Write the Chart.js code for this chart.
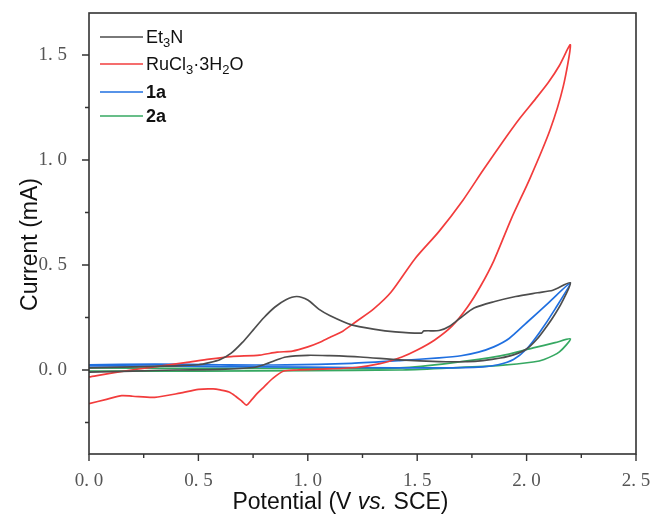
<!DOCTYPE html>
<html><head><meta charset="utf-8">
<script src="https://cdn.jsdelivr.net/npm/chart.js@4.4.1/dist/chart.umd.min.js"></script>
<style>html,body{margin:0;padding:0;background:#fff}#wrap{width:654px;height:520px}</style>
</head><body><div id="wrap"><canvas id="c" width="654" height="520"></canvas></div>
<script>
// ---- data (potential V vs SCE, current mA) ----
const et3nV = [0,0.2,0.4,0.5,0.55,0.6,0.65,0.7,0.75,0.8,0.85,0.9,0.95,1.0,1.05,1.1,1.2,1.3,1.4,1.52,1.53,1.6,1.65,1.7,1.76,1.85,1.95,2.05,2.12,2.2,
               2.16,2.12,2.09,2.05,2.0,1.94,1.88,1.8,1.73,1.6,1.42,1.24,1.1,1.0,0.9,0.85,0.8,0.75,0.6,0.4,0.2,0];
const et3nI = [0.01,0.015,0.02,0.025,0.035,0.05,0.08,0.13,0.19,0.25,0.30,0.335,0.35,0.333,0.29,0.26,0.215,0.195,0.182,0.176,0.186,0.188,0.21,0.25,0.295,0.325,0.35,0.368,0.38,0.415,
               0.32,0.25,0.205,0.15,0.10,0.072,0.057,0.045,0.04,0.04,0.048,0.062,0.068,0.07,0.062,0.045,0.025,0.012,0.003,0.0,-0.005,-0.01];
const ruV = [0,0.13,0.29,0.44,0.55,0.65,0.78,0.86,0.93,1.0,1.05,1.1,1.16,1.22,1.3,1.38,1.49,1.6,1.71,1.8,1.9,1.97,2.04,2.1,2.15,2.2,
             2.167,2.107,2.016,1.93,1.85,1.79,1.73,1.66,1.58,1.5,1.43,1.33,1.22,1.09,0.95,0.89,0.84,0.8,0.77,0.745,0.72,0.7,0.67,0.64,0.6,0.567,0.5,0.416,0.3,0.2,0.15,0.08,0];
const ruI = [-0.033,-0.01,0.014,0.035,0.052,0.064,0.071,0.085,0.09,0.11,0.13,0.155,0.185,0.23,0.29,0.37,0.53,0.66,0.81,0.95,1.10,1.20,1.29,1.37,1.45,1.548,
             1.348,1.143,0.914,0.72,0.52,0.40,0.30,0.21,0.143,0.095,0.062,0.03,0.012,0.005,0.0,-0.005,-0.04,-0.08,-0.11,-0.14,-0.167,-0.15,-0.125,-0.105,-0.095,-0.09,-0.092,-0.11,-0.13,-0.125,-0.122,-0.14,-0.16];
const s1aV = [0,0.3,0.6,0.9,1.2,1.42,1.6,1.7,1.78,1.85,1.92,2.0,2.1,2.2,
              2.13,2.06,2.0,1.94,1.87,1.8,1.6,1.2,0.8,0.4,0];
const s1aI = [0.025,0.028,0.025,0.024,0.032,0.045,0.058,0.068,0.085,0.11,0.15,0.225,0.32,0.415,
              0.29,0.18,0.10,0.05,0.025,0.015,0.01,0.012,0.015,0.018,0.02];
const s2aV = [0,0.4,0.8,1.2,1.42,1.65,1.88,2.03,2.13,2.2,
              2.15,2.08,2.03,1.88,1.65,1.42,1.0,0.5,0];
const s2aI = [0.01,0.008,0.008,0.008,0.01,0.033,0.067,0.105,0.13,0.148,
              0.086,0.05,0.038,0.022,0.01,0.0,-0.003,-0.005,-0.005];
const seriesNames = [
  [['Et',''],['3','sub'],['N','']],
  [['RuCl',''],['3','sub'],['\u00b73H',''],['2','sub'],['O','']],
  [['1a','']],
  [['2a','']]
];
const seriesBold = [false,false,true,true];
const seriesColors = ['#4d4d4d','#f23c3c','#1f6fe0','#36a862'];
const xMajor = [0,0.5,1,1.5,2,2.5];
const xMinor = [0.25,0.75,1.25,1.75,2.25];
const yMajor = [0,0.5,1,1.5];
const yMinor = [-0.25,0.25,0.75,1.25];
const xTitleParts = [['Potential (V ',''],['vs.','i'],[' SCE)','']];
const yTitle = 'Current (mA)';

const pts = (xs, ys) => xs.map((x,i)=>({x:x,y:ys[i]}));
const mk = (i, xs, ys) => ({label: seriesNames[i].map(p=>p[0]).join(''), data: pts(xs,ys), borderColor: seriesColors[i],
  backgroundColor: seriesColors[i], borderWidth: 1.7, pointRadius: 0, showLine: true, tension: 0.25, fill: false});

const zeroPad = s => { s.paddingTop = 0; s.paddingBottom = 0; s.paddingLeft = 0; s.paddingRight = 0; };

const decor = {
  id: 'decor',
  afterDraw(chart) {
    const ctx = chart.ctx, a = chart.chartArea, xs = chart.scales.x, ys = chart.scales.y;
    ctx.save();
    // frame
    ctx.strokeStyle = '#333'; ctx.lineWidth = 1.6;
    ctx.strokeRect(a.left, a.top, a.right - a.left, a.bottom - a.top);
    // ticks
    ctx.lineWidth = 1.4;
    ctx.beginPath();
    xMajor.forEach(v => { const p = xs.getPixelForValue(v); ctx.moveTo(p, a.bottom); ctx.lineTo(p, a.bottom + 7); });
    xMinor.forEach(v => { const p = xs.getPixelForValue(v); ctx.moveTo(p, a.bottom); ctx.lineTo(p, a.bottom + 4); });
    yMajor.forEach(v => { const p = ys.getPixelForValue(v); ctx.moveTo(a.left, p); ctx.lineTo(a.left - 7, p); });
    yMinor.forEach(v => { const p = ys.getPixelForValue(v); ctx.moveTo(a.left, p); ctx.lineTo(a.left - 4, p); });
    ctx.stroke();
    // axis titles
    ctx.fillStyle = '#111';
    ctx.textBaseline = 'alphabetic';
    const tf = (it) => (it ? 'italic ' : '') + '23px "Liberation Sans", Arial, sans-serif';
    let tw = 0;
    xTitleParts.forEach(p => { ctx.font = tf(p[1]); tw += ctx.measureText(p[0]).width; });
    let tx = (a.left + a.right) / 2 - 22 - tw / 2;
    xTitleParts.forEach(p => { ctx.font = tf(p[1]); ctx.textAlign = 'left'; ctx.fillText(p[0], tx, a.bottom + 55); tx += ctx.measureText(p[0]).width; });
    ctx.save();
    ctx.translate(37, (a.top + a.bottom) / 2 + 11);
    ctx.rotate(-Math.PI / 2);
    ctx.font = tf(''); ctx.textAlign = 'center';
    ctx.fillText(yTitle, 0, 0);
    ctx.restore();
    // legend
    const rows = [24, 51, 79, 103];
    chart.data.datasets.forEach((ds, i) => {
      const y = a.top + rows[i];
      ctx.strokeStyle = ds.borderColor; ctx.lineWidth = 1.7;
      ctx.beginPath(); ctx.moveTo(a.left + 11, y); ctx.lineTo(a.left + 54, y); ctx.stroke();
      let x = a.left + 57;
      ctx.fillStyle = '#111'; ctx.textAlign = 'left';
      seriesNames[i].forEach(p => {
        const sub = p[1] === 'sub';
        ctx.font = (seriesBold[i] ? 'bold ' : '') + (sub ? '13px' : '18px') + ' "Liberation Sans", Arial, sans-serif';
        ctx.fillText(p[0], x, y + (sub ? 10 : 6));
        x += ctx.measureText(p[0]).width;
      });
    });
    ctx.restore();
  }
};

new Chart(document.getElementById('c'), {
  type: 'scatter',
  data: { datasets: [ mk(0, et3nV, et3nI), mk(1, ruV, ruI), mk(2, s1aV, s1aI), mk(3, s2aV, s2aI) ] },
  options: {
    responsive: false, animation: false, devicePixelRatio: 1,
    layout: { padding: { top: 13, right: 18, left: 0, bottom: 0 } },
    plugins: { legend: { display: false }, tooltip: { enabled: false } },
    scales: {
      x: { type: 'linear', min: 0, max: 2.5,
        grid: { display: false }, border: { display: false },
        ticks: { stepSize: 0.5, padding: 8, color: '#555', font: { family: '"Liberation Serif", serif', size: 19 },
          callback: v => v.toFixed(1).replace('.', '. ') },
        afterFit: s => { s.height = 66; zeroPad(s); } },
      y: { type: 'linear', min: -0.4, max: 1.7,
        grid: { display: false }, border: { display: false },
        afterBuildTicks: s => { s.ticks = s.ticks.filter(t => yMajor.some(v => Math.abs(v - t.value) < 1e-6)); },
        ticks: { padding: 14, color: '#555', font: { family: '"Liberation Serif", serif', size: 19 },
          callback: v => v.toFixed(1).replace('.', '. ') },
        afterFit: s => { s.width = 89; zeroPad(s); } }
    }
  },
  plugins: [decor]
});
</script></body></html>
